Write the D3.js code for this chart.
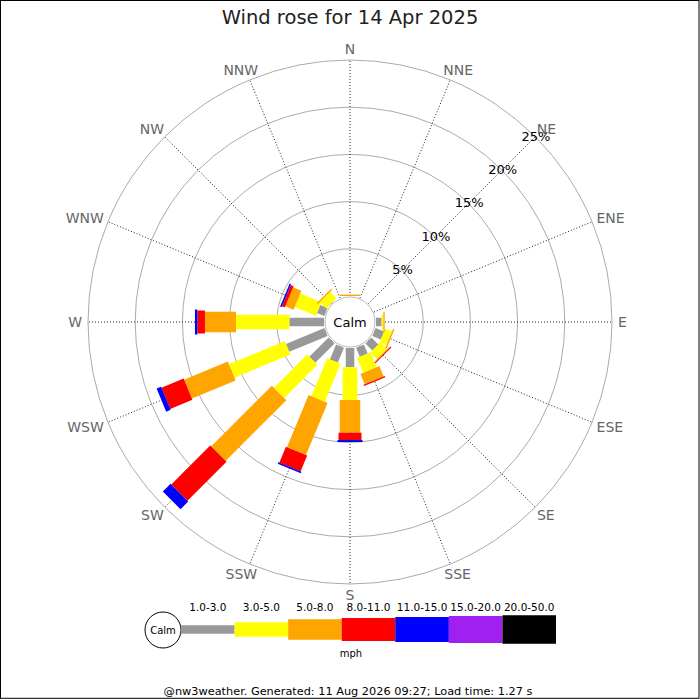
<!DOCTYPE html>
<html><head><meta charset="utf-8">
<script src="https://cdn.jsdelivr.net/npm/d3@7"></script>
<style>body{margin:0;background:#fff}svg{display:block;font-family:"DejaVu Sans",sans-serif}</style>
</head><body><svg id="c" width="700" height="700"></svg>
<script>
const directions = ["N","NNE","NE","ENE","E","ESE","SE","SSE","S","SSW","SW","WSW","W","WNW","NW","NNW"];
const speedBands = ["1.0-3.0","3.0-5.0","5.0-8.0","8.0-11.0","11.0-15.0","15.0-20.0","20.0-50.0"];
const bandColors = ["#999999","#ffff00","#ffa500","#ff0000","#0000ff","#a020f0","#000000"];
// percentage of time per direction, per speed band
const band1 = [0,0,0,0,0.60,0.97,1.05,1.05,2.04,1.72,2.90,4.40,3.67,0.84,0.05,0];
const band2 = [0,0,0,0,0.18,0.78,1.00,1.70,3.47,4.36,4.97,6.41,5.65,2.43,0.95,0];
const band3 = [0.15,0,0,0,0.14,0.15,0.08,1.19,3.46,5.96,9.10,5.01,3.29,0.95,0.15,0];
const band4 = [0,0,0,0,0,0,0.12,0.15,0.78,1.84,5.84,2.54,0.81,0.33,0,0];
const band5 = [0,0,0,0,0,0,0,0,0.21,0.17,1.15,0.51,0.25,0.16,0,0];
const band6 = [0,0,0,0,0,0,0,0,0,0,0,0,0,0,0,0];
const band7 = [0,0,0,0,0,0,0,0,0,0,0,0,0,0,0,0];
const ringTicks = [5,10,15,20,25];
const titleText = "Wind rose for 14 Apr 2025";
const unitText = "mph";
const footerText = "@nw3weather. Generated: 11 Aug 2026 09:27; Load time: 1.27 s";

const bands = [band1,band2,band3,band4,band5,band6,band7];
const bandWidths = [8.5,14.5,20.5,23,25,27,28.5];
const cx = 350, cy = 322, R0 = 26, R1 = 262, RL = 268;
const svg = d3.select("#c");

svg.append("rect").attr("x",0.5).attr("y",0.5).attr("width",698.5).attr("height",697.8)
  .attr("fill","#fff").attr("stroke","#000").attr("stroke-width",1);

svg.append("text").attr("x",cx).attr("y",24).attr("text-anchor","middle")
  .attr("font-size",19.5).attr("fill","#222").text(titleText);

const r = d3.scaleLinear().domain([0,25]).range([R0,R1]);
const ang = d3.scaleBand().domain(directions).range([0,360]);
const rad = d => (ang(d)) * Math.PI/180;

const g = svg.append("g").attr("transform",`translate(${cx},${cy})`);

// rings
g.selectAll("circle.ring").data(ringTicks).join("circle").attr("class","ring")
  .attr("r",d=>r(d)).attr("fill","none").attr("stroke","#aaa").attr("stroke-width",1);

// spokes
g.selectAll("line.spoke").data(directions).join("line").attr("class","spoke")
  .attr("x1",d=>Math.sin(rad(d))*R0).attr("y1",d=>-Math.cos(rad(d))*R0)
  .attr("x2",d=>Math.sin(rad(d))*R1).attr("y2",d=>-Math.cos(rad(d))*R1)
  .attr("stroke","#222").attr("stroke-width",1).attr("stroke-dasharray","1,2");

// direction labels: box edge sits on radius RL
g.selectAll("text.dir").data(directions).join("text").attr("class","dir")
  .attr("dy","0.36em").attr("text-anchor","middle").attr("font-size",14).attr("fill","#666")
  .text(d=>d)
  .each(function(d){
    const hw = this.getComputedTextLength()/2, hh = 5;
    const s = Math.sin(rad(d)), c = Math.cos(rad(d));
    d3.select(this).attr("x", s*RL + s*hw).attr("y", -c*RL - c*hh);
  });

// stacked bars
const rows = directions.map((d,i)=>{const o={dir:d}; speedBands.forEach((b,j)=>o[b]=bands[j][i]); return o;});
const stack = d3.stack().keys(speedBands)(rows);
stack.forEach((layer,j)=>{
  const w = bandWidths[j];
  g.selectAll(null).data(layer.filter(s=>s[1]-s[0]>0)).join("rect")
    .attr("transform",s=>`rotate(${ang(s.data.dir)})`)
    .attr("x",-w/2).attr("width",w)
    .attr("y",s=>-r(s[1])).attr("height",s=>r(s[1])-r(s[0]))
    .attr("fill",bandColors[j]);
});

// calm circle
g.append("circle").attr("r",R0-1).attr("fill","#fff").attr("stroke","#bbb");
g.append("text").attr("dy","0.36em").attr("text-anchor","middle").attr("font-size",13).attr("fill","#000").text("Calm");

// percent labels along NE
g.selectAll("text.pct").data(ringTicks).join("text").attr("class","pct")
  .attr("x",d=>Math.sin(Math.PI/4)*(r(d)+1)).attr("y",d=>-Math.cos(Math.PI/4)*(r(d)+1))
  .attr("dy","0.36em").attr("text-anchor","middle").attr("font-size",13).attr("fill","#000")
  .text(d=>d+"%");

// legend
const lx0 = 181, lx1 = 556, ly = 629.5;
const lx = d3.scaleBand().domain(speedBands).range([lx0,lx1]);
const lg = svg.append("g");
lg.append("circle").attr("cx",163).attr("cy",ly+0.5).attr("r",18).attr("fill","#fff").attr("stroke","#000");
lg.append("text").attr("x",163).attr("y",ly+0.5).attr("dy","0.36em").attr("text-anchor","middle").attr("font-size",10).text("Calm");
lg.selectAll("rect").data(speedBands).join("rect")
  .attr("x",d=>lx(d)).attr("width",lx.bandwidth())
  .attr("y",(d,i)=>ly-bandWidths[i]/2).attr("height",(d,i)=>bandWidths[i])
  .attr("fill",(d,i)=>bandColors[i]);
lg.selectAll("text.lab").data(speedBands).join("text").attr("class","lab")
  .attr("x",d=>lx(d)+lx.bandwidth()/2).attr("y",611).attr("text-anchor","middle")
  .attr("font-size",10.5).attr("fill","#000").text(d=>d);
lg.append("text").attr("x",351).attr("y",657).attr("text-anchor","middle").attr("font-size",10).text(unitText);

svg.append("text").attr("x",348).attr("y",695).attr("text-anchor","middle").attr("font-size",11.3).attr("fill","#000").text(footerText);
</script></body></html>
